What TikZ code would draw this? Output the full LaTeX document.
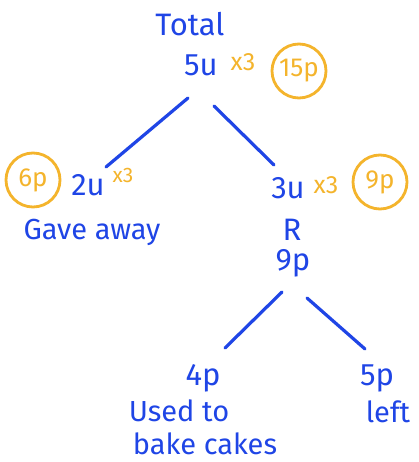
\documentclass[tikz,border=0pt]{standalone}
\usepackage{fontspec}
\setmainfont{Fira Sans}
\definecolor{penblue}{HTML}{1F45E6}
\definecolor{penorange}{HTML}{F4B42C}
\begin{document}
\begin{tikzpicture}[x=1pt,y=-1pt,
  bluetxt/.style={text=penblue,font=\fontsize{31}{33}\selectfont,inner sep=0pt},
  smalltxt/.style={text=penblue,font=\fontsize{29}{31}\selectfont,inner sep=0pt},
  oratxt/.style={text=penorange,font=\fontsize{25}{27}\selectfont,inner sep=0pt},
  ring/.style={draw=penorange,line width=2.8pt,circle,minimum size=54pt,inner sep=0pt,text=penorange,font=\fontsize{26}{28}\selectfont},
  branch/.style={draw=penblue,line width=3.2pt,line cap=round}]
\useasboundingbox (0,0) rectangle (418,462);
\fill[white] (0,0) rectangle (418,462);
% top
\node[bluetxt] (total) at (190,24) {Total};
\node[bluetxt] (u5) at (201,65) {5u};
\node[oratxt] (x3a) at (243,62) {x3};
\node[ring] (p15) at (299,71) {15p};
% left branch
\node[ring] (p6) at (33,180) {6p};
\node[bluetxt] (u2) at (88,185) {2u};
\node[oratxt,font=\fontsize{21}{23}\selectfont] (x3b) at (123,175) {x3};
\node[smalltxt] (gave) at (92,232) {Gave away};
% right branch
\node[bluetxt] (u3) at (288,188) {3u};
\node[oratxt] (x3c) at (326,185) {x3};
\node[ring] (p9) at (380,182) {9p};
\node[bluetxt] (r) at (292,230) {R};
\node[bluetxt] (p9b) at (293,263) {9p};
% bottom
\node[bluetxt] (p4) at (203,378) {4p};
\node[smalltxt] (used) at (179,411) {Used to};
\node[smalltxt] (bake) at (205,444) {bake cakes};
\node[bluetxt] (p5) at (377,378) {5p};
\node[smalltxt] (left) at (388,412) {left};
% connector ends
\coordinate (a1) at (188,98);
\coordinate (a2) at (106,167);
\coordinate (b1) at (214,106);
\coordinate (b2) at (274,165);
\coordinate (c1) at (282,292);
\coordinate (c2) at (225,348);
\coordinate (d1) at (307,298);
\coordinate (d2) at (365,349);
\draw[branch] (a1) -- (a2);
\draw[branch] (b1) -- (b2);
\draw[branch] (c1) -- (c2);
\draw[branch] (d1) -- (d2);
\end{tikzpicture}
\end{document}
